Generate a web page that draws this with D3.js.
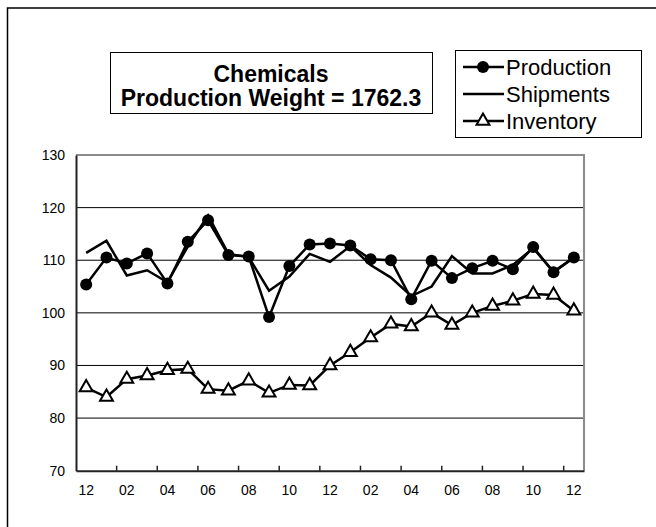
<!doctype html>
<html lang="en">
<head>
<meta charset="utf-8">
<title>Chemicals</title>
<script src="https://cdn.jsdelivr.net/npm/d3@7"></script>
<style>
    body { margin: 0; background: #fff; }
    svg { display: block; font-family: "Liberation Sans", Arial, sans-serif; }
    .grid line { stroke: #000; stroke-width: 1px; }
</style>
</head>
<body>
<svg width="656" height="527"></svg>
<script>
    // month labels, 12 .. 12 (25 months)
    var months = ["12","01","02","03","04","05","06","07","08","09","10","11",
                  "12","01","02","03","04","05","06","07","08","09","10","11","12"];

    var production = [105.4, 110.5, 109.4, 111.3, 105.6, 113.5, 117.6, 111.0, 110.7, 99.2,
                      108.9, 113.0, 113.2, 112.8, 110.2, 110.0, 102.6, 109.9, 106.6, 108.5,
                      109.9, 108.3, 112.5, 107.7, 110.5];

    var shipments = [111.4, 113.7, 107.1, 108.1, 105.8, 112.6, 118.5, 111.2, 110.6, 104.2,
                     106.9, 111.2, 109.7, 112.7, 109.1, 106.7, 103.2, 105.0, 110.8, 107.5,
                     107.5, 109.1, 112.3, 107.8, 110.5];

    var inventory = [85.8, 84.0, 87.4, 88.1, 89.1, 89.3, 85.5, 85.2, 87.1, 84.8,
                     86.3, 86.2, 90.0, 92.5, 95.3, 97.9, 97.4, 100.0, 97.7, 100.0,
                     101.3, 102.3, 103.6, 103.4, 100.4];

    var yTicks = [70, 80, 90, 100, 110, 120, 130];

    var svg = d3.select("svg");

    var plotLeft = 76, plotRight = 584, plotTop = 155, plotBottom = 470.7;

    var x = d3.scaleBand().domain(d3.range(months.length)).range([plotLeft, plotRight]);
    var y = d3.scaleLinear().domain([70, 130]).range([plotBottom, plotTop]);

    // outer frame (only top & left visible in the picture)
    svg.append("rect")
        .attr("x", 7.5).attr("y", 8)
        .attr("width", 700).attr("height", 700)
        .attr("fill", "none").attr("stroke", "#000").attr("stroke-width", 1.5);

    // gridlines
    svg.append("g").attr("class", "grid")
        .selectAll("line")
        .data(yTicks.slice(1, -1))
        .enter().append("line")
        .attr("x1", plotLeft).attr("x2", plotRight)
        .attr("y1", function (d) { return y(d); })
        .attr("y2", function (d) { return y(d); });

    // plot border top / right (gray)
    svg.append("path")
        .attr("d", "M" + plotLeft + "," + plotTop + "H" + plotRight + "V" + plotBottom)
        .attr("fill", "none").attr("stroke", "#8c8c8c").attr("stroke-width", 2);

    // y axis
    var yAxis = svg.append("g")
        .attr("transform", "translate(" + plotLeft + ",0)")
        .call(d3.axisLeft(y).tickValues(yTicks).tickSize(0).tickPadding(11));
    yAxis.select(".domain").attr("stroke", "#222").attr("stroke-width", 2);
    yAxis.selectAll("text").attr("font-size", 14).attr("fill", "#000")
        .attr("font-family", "Liberation Sans, Arial, sans-serif");

    // x axis: labels on every other month, ticks between categories
    var xAxis = svg.append("g")
        .attr("transform", "translate(0," + plotBottom + ")")
        .call(d3.axisBottom(x)
            .tickValues(d3.range(0, months.length, 2))
            .tickFormat(function (i) { return months[i]; })
            .tickSize(0).tickPadding(14));
    xAxis.select(".domain").attr("stroke", "#222").attr("stroke-width", 2);
    xAxis.selectAll("text").attr("font-size", 14).attr("fill", "#000")
        .attr("font-family", "Liberation Sans, Arial, sans-serif");

    svg.append("g").selectAll("line")
        .data(d3.range(2, months.length, 2))
        .enter().append("line")
        .attr("x1", function (i) { return x(i); })
        .attr("x2", function (i) { return x(i); })
        .attr("y1", plotBottom).attr("y2", plotBottom - 5)
        .attr("stroke", "#222").attr("stroke-width", 1.5);

    var cx = function (d, i) { return x(i) + x.bandwidth() / 2; };
    var line = d3.line().x(cx).y(function (d) { return y(d); });

    // shipments
    svg.append("path").datum(shipments)
        .attr("d", line)
        .attr("fill", "none").attr("stroke", "#000").attr("stroke-width", 2.5);

    // production
    svg.append("path").datum(production)
        .attr("d", line)
        .attr("fill", "none").attr("stroke", "#000").attr("stroke-width", 2.5);
    svg.append("g").selectAll("circle")
        .data(production)
        .enter().append("circle")
        .attr("cx", cx)
        .attr("cy", function (d) { return y(d); })
        .attr("r", 6).attr("fill", "#000");

    // inventory
    var tri = d3.symbol().type(d3.symbolTriangle).size(72);
    svg.append("path").datum(inventory)
        .attr("d", line)
        .attr("fill", "none").attr("stroke", "#000").attr("stroke-width", 2.5);
    svg.append("g").selectAll("path")
        .data(inventory)
        .enter().append("path")
        .attr("d", tri)
        .attr("transform", function (d, i) { return "translate(" + cx(d, i) + "," + y(d) + ")"; })
        .attr("fill", "#fff").attr("stroke", "#000").attr("stroke-width", 2);

    // title box
    svg.append("rect")
        .attr("x", 110.5).attr("y", 52.5).attr("width", 322).attr("height", 61)
        .attr("fill", "#fff").attr("stroke", "#000").attr("stroke-width", 1);
    svg.append("text")
        .attr("x", 271).attr("y", 82)
        .attr("text-anchor", "middle").attr("font-weight", "bold").attr("font-size", 23)
        .text("Chemicals");
    svg.append("text")
        .attr("x", 271).attr("y", 106)
        .attr("text-anchor", "middle").attr("font-weight", "bold").attr("font-size", 23)
        .text("Production Weight = 1762.3");

    // legend
    svg.append("rect")
        .attr("x", 455.5).attr("y", 50.5).attr("width", 186).attr("height", 87)
        .attr("fill", "#fff").attr("stroke", "#000").attr("stroke-width", 1);

    var legendItems = ["Production", "Shipments", "Inventory"];
    var lg = svg.selectAll(".legend")
        .data(legendItems)
        .enter().append("g")
        .attr("class", "legend")
        .attr("transform", function (d, i) { return "translate(463," + (67 + i * 27) + ")"; });

    lg.append("line")
        .attr("x1", 0).attr("x2", 41)
        .attr("stroke", "#000").attr("stroke-width", 2.5);
    lg.filter(function (d) { return d === "Production"; })
        .append("circle").attr("cx", 20).attr("r", 6).attr("fill", "#000");
    lg.filter(function (d) { return d === "Inventory"; })
        .append("path").attr("d", tri).attr("transform", "translate(20,0)")
        .attr("fill", "#fff").attr("stroke", "#000").attr("stroke-width", 2);
    lg.append("text")
        .attr("x", 43).attr("dy", "0.35em")
        .attr("font-size", 22)
        .text(function (d) { return d; });
</script>
</body>
</html>
